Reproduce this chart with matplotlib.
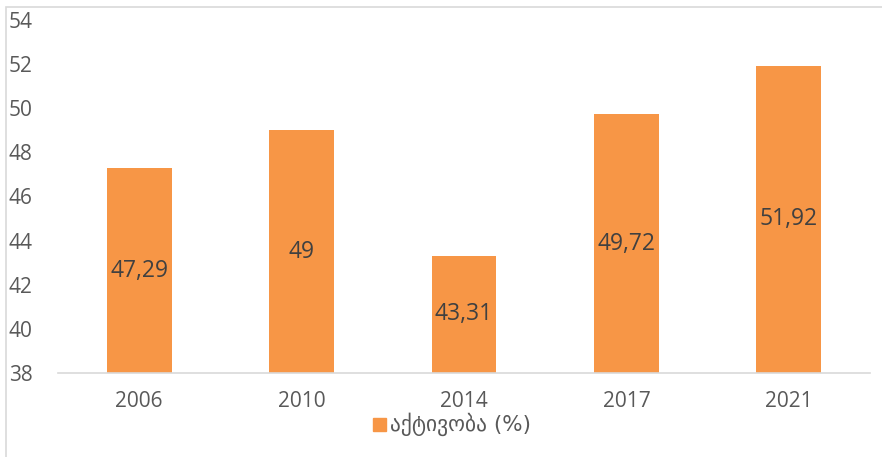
import matplotlib
matplotlib.use("Agg")
import matplotlib.pyplot as plt
from matplotlib.patches import Rectangle

years = ["2006", "2010", "2014", "2017", "2021"]
activity = [47.29, 49.0, 43.31, 49.72, 51.92]
value_labels = ["47,29", "49", "43,31", "49,72", "51,92"]
series_name = "აქტივობა (%)"
yticks = [38, 40, 42, 44, 46, 48, 50, 52, 54]

plt.rcParams['font.family'] = ['Open Sans', 'DejaVu Sans']

W, H = 882, 457
fig = plt.figure(figsize=(W / 100, H / 100), dpi=100)
ax = fig.add_axes([58 / W, 1 - 373 / H, (870 - 58) / W, (373 - 20) / H])

bar_color = "#F79646"
x = list(range(len(years)))
bars = ax.bar(x, [v - 38 for v in activity], bottom=38, width=0.4, color=bar_color, zorder=2)
ax.set_xlim(-0.5, len(years) - 0.5)
ax.set_ylim(38, 54)
ax.set_yticks(yticks)
ax.set_yticklabels([str(t) for t in yticks], fontsize=15, color="#595959")
ax.set_xticks(x)
ax.set_xticklabels(years, fontsize=15, color="#595959")
ax.tick_params(axis="both", length=0)
ax.tick_params(axis="x", pad=13)
ax.tick_params(axis="y", pad=0)
for lab in ax.get_yticklabels():
    lab.set_horizontalalignment("left")
    lab.set_x(-49 / (870 - 58))

for s in ["top", "right", "left"]:
    ax.spines[s].set_visible(False)
ax.spines["bottom"].set_color("#D9D9D9")
ax.spines["bottom"].set_linewidth(1.2)

for xi, v, lab in zip(x, activity, value_labels):
    ax.text(xi, (38 + v) / 2, lab, ha="center", va="center", fontsize=16.5, color="#404040", zorder=3)

# legend
fig.patches.append(Rectangle((373 / W, 1 - 431 / H), 13 / W, 13 / H, transform=fig.transFigure,
                             color=bar_color, figure=fig))
fig.text(390 / W, 1 - 424 / H, series_name, ha="left", va="center", fontsize=15.5, color="#595959",
         family=["DejaVu Sans"])

# chart border
fig.patches.append(Rectangle((6 / W, -0.01), 1.0, 1 - 7 / H + 0.01, transform=fig.transFigure,
                             fill=False, edgecolor="#D9D9D9", linewidth=1.2, figure=fig))

fig.savefig("out.png", dpi=100)
